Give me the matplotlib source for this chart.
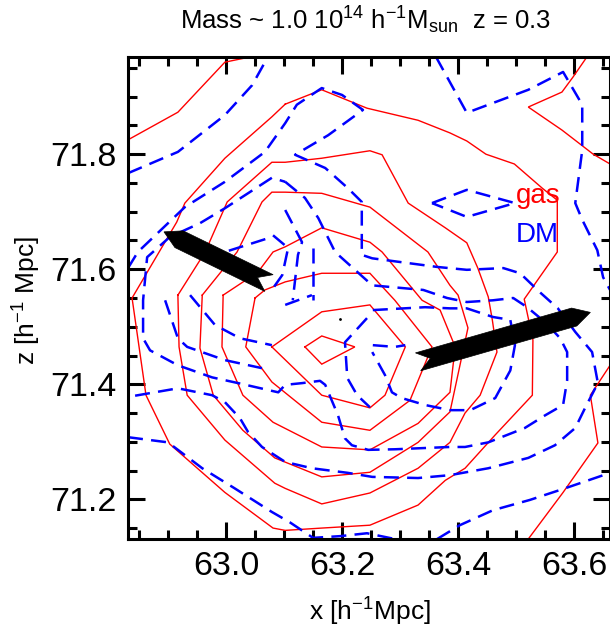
import numpy as np
import matplotlib
matplotlib.use("Agg")
import matplotlib.pyplot as plt
from matplotlib.patches import Polygon
from matplotlib.ticker import MultipleLocator

plt.rcParams['font.family'] = ['Liberation Sans', 'DejaVu Sans']
plt.rcParams['mathtext.fontset'] = 'custom'
plt.rcParams['mathtext.rm'] = 'Liberation Sans'
plt.rcParams['mathtext.it'] = 'Liberation Sans:italic'

# gas contours (red, solid), outer -> inner, x / z in h^-1 Mpc
gas_1a_x = [62.831, 62.917, 62.998, 63.041]
gas_1a_z = [71.825, 71.873, 71.960, 71.969]
gas_1b_x = [63.622, 63.598, 63.579, 63.521, 63.579, 63.633, 63.662]
gas_1b_z = [71.969, 71.934, 71.908, 71.882, 71.842, 71.800, 71.783]
gas_1c_x = [63.662, 63.628, 63.641, 63.581, 63.521]
gas_1c_z = [71.433, 71.381, 71.298, 71.212, 71.131]
gas_2_x = [63.102, 63.165, 63.243, 63.331, 63.386, 63.415, 63.448, 63.497, 63.545, 63.571,
           63.571, 63.514, 63.529, 63.528, 63.464, 63.412, 63.378, 63.331, 63.248, 63.165,
           63.102, 63.081, 62.998, 62.903, 62.862, 62.838, 62.915, 62.929, 62.998, 63.079, 63.102]
gas_2_z = [71.887, 71.912, 71.880, 71.859, 71.837, 71.823, 71.800, 71.783, 71.741, 71.720,
           71.630, 71.548, 71.477, 71.381, 71.312, 71.254, 71.233, 71.190, 71.155, 71.150,
           71.146, 71.150, 71.212, 71.296, 71.381, 71.550, 71.682, 71.715, 71.793, 71.865, 71.887]
gas_3_x = [62.917, 62.919, 62.933, 62.998, 63.084, 63.102, 63.165, 63.248, 63.331, 63.386,
           63.412, 63.438, 63.467, 63.459, 63.452, 63.434, 63.415, 63.378, 63.314, 63.269,
           63.248, 63.165, 63.102, 63.079, 63.002, 62.964, 62.917]
gas_3_z = [71.555, 71.465, 71.381, 71.303, 71.228, 71.219, 71.192, 71.211, 71.254, 71.299,
           71.350, 71.381, 71.456, 71.512, 71.552, 71.602, 71.646, 71.672, 71.715, 71.799,
           71.806, 71.793, 71.786, 71.786, 71.717, 71.630, 71.555]
gas_4_x = [62.959, 62.955, 62.978, 63.029, 63.084, 63.165, 63.248, 63.331, 63.386, 63.417,
           63.400, 63.386, 63.348, 63.248, 63.165, 63.102, 63.079, 63.062, 63.019, 62.959]
gas_4_z = [71.555, 71.463, 71.381, 71.320, 71.272, 71.239, 71.247, 71.299, 71.352, 71.498,
           71.555, 71.572, 71.630, 71.708, 71.732, 71.734, 71.734, 71.717, 71.630, 71.555]
gas_5_x = [62.995, 62.993, 63.029, 63.081, 63.165, 63.248, 63.331, 63.386, 63.395, 63.369,
           63.338, 63.269, 63.248, 63.165, 63.102, 63.081, 63.055, 62.995]
gas_5_z = [71.555, 71.465, 71.381, 71.334, 71.291, 71.286, 71.332, 71.386, 71.465, 71.529,
           71.546, 71.630, 71.647, 71.672, 71.639, 71.630, 71.595, 71.555]
gas_6_x = [63.050, 63.034, 63.079, 63.165, 63.248, 63.317, 63.355, 63.291, 63.248, 63.165,
           63.102, 63.067, 63.050]
gas_6_z = [71.550, 71.465, 71.404, 71.334, 71.320, 71.372, 71.465, 71.546, 71.593, 71.593,
           71.578, 71.564, 71.550]
gas_7_x = [63.079, 63.165, 63.248, 63.309, 63.274, 63.248, 63.165, 63.079]
gas_7_z = [71.465, 71.526, 71.538, 71.465, 71.381, 71.359, 71.381, 71.465]
gas_8_x = [63.136, 63.165, 63.222, 63.165, 63.136]
gas_8_z = [71.465, 71.484, 71.465, 71.435, 71.465]

# dark matter contours (blue, dashed)
dm_1a_x = [62.831, 62.917, 62.998, 63.045, 63.072]
dm_1a_z = [71.767, 71.804, 71.868, 71.920, 71.969]
dm_1b_x = [63.362, 63.415, 63.521, 63.581, 63.614, 63.614, 63.602, 63.614, 63.640, 63.650, 63.662]
dm_1b_z = [71.969, 71.872, 71.912, 71.943, 71.886, 71.807, 71.715, 71.686, 71.633, 71.586, 71.564]
dm_1c_x = [62.831, 62.900, 62.959, 63.015, 63.079, 63.110, 63.150, 63.197, 63.243, 63.291]
dm_1c_z = [71.308, 71.299, 71.254, 71.219, 71.178, 71.160, 71.133, 71.136, 71.141, 71.131]
dm_1e_x = [63.364, 63.403, 63.460, 63.524, 63.584, 63.662]
dm_1e_z = [71.131, 71.155, 71.181, 71.199, 71.219, 71.246]
dm_1f_x = [63.355, 63.415, 63.498, 63.415, 63.355]
dm_1f_z = [71.715, 71.738, 71.715, 71.691, 71.715]
dm_2_x = [62.831, 62.848, 62.929, 62.998, 63.067, 63.102, 63.122, 63.165, 63.200, 63.236,
          63.176, 63.119, 63.171, 63.210, 63.234, 63.234, 63.252, 63.364, 63.415, 63.478,
          63.507, 63.541, 63.572, 63.602, 63.631, 63.641, 63.619, 63.602, 63.567, 63.521,
          63.452, 63.386, 63.331, 63.252, 63.210, 63.148, 63.102, 63.062, 63.038, 63.024,
          62.998, 62.976, 62.917, 62.831]
dm_2_z = [71.602, 71.630, 71.708, 71.752, 71.804, 71.854, 71.886, 71.915, 71.903, 71.877,
          71.833, 71.799, 71.776, 71.741, 71.717, 71.625, 71.619, 71.604, 71.599, 71.602,
          71.593, 71.560, 71.532, 71.491, 71.456, 71.402, 71.359, 71.324, 71.294, 71.272,
          71.254, 71.242, 71.237, 71.239, 71.246, 71.254, 71.265, 71.291, 71.317, 71.341,
          71.369, 71.381, 71.393, 71.378]
dm_3_x = [63.102, 63.136, 63.159, 63.188, 63.252, 63.340, 63.381, 63.415, 63.460, 63.495,
          63.519, 63.550, 63.576, 63.588, 63.588, 63.581, 63.550, 63.515, 63.452, 63.412,
          63.386, 63.291, 63.245, 63.217, 63.205, 63.193, 63.171, 63.162, 63.131, 63.102,
          63.090, 63.021, 62.976, 62.917, 62.869, 62.857, 62.857, 62.864, 62.903, 62.955,
          62.998, 63.079, 63.102]
dm_3_z = [71.752, 71.724, 71.689, 71.630, 71.572, 71.564, 71.550, 71.543, 71.546, 71.550,
          71.534, 71.508, 71.480, 71.456, 71.407, 71.364, 71.346, 71.324, 71.299, 71.291,
          71.291, 71.287, 71.286, 71.294, 71.306, 71.346, 71.399, 71.406, 71.402, 71.399,
          71.386, 71.402, 71.412, 71.433, 71.459, 71.480, 71.546, 71.621, 71.656, 71.680,
          71.706, 71.759, 71.752]
dm_4a_x = [63.253, 63.343, 63.386, 63.415, 63.460, 63.490, 63.498, 63.490, 63.464, 63.421,
           63.386, 63.343, 63.303, 63.286, 63.274, 63.252]
dm_4a_z = [71.529, 71.534, 71.532, 71.532, 71.517, 71.512, 71.468, 71.424, 71.376, 71.355,
           71.355, 71.364, 71.376, 71.386, 71.416, 71.456]
dm_4b_x = [63.102, 63.131, 63.124, 63.115]
dm_4b_z = [71.703, 71.647, 71.625, 71.546]
dm_4c_x = [62.895, 62.917, 62.933, 62.998, 63.062]
dm_4c_z = [71.546, 71.480, 71.465, 71.442, 71.428]
dm_4d_x = [63.243, 63.205, 63.209, 63.226, 63.248]
dm_4d_z = [71.515, 71.473, 71.411, 71.381, 71.360]
dm_5a_x = [63.150, 63.150]
dm_5a_z = [71.637, 71.546]
dm_5b_x = [62.938, 62.981, 63.024, 63.079]
dm_5b_z = [71.555, 71.503, 71.480, 71.468]
dm_5c_x = [62.967, 62.998, 63.079]
dm_5c_z = [71.619, 71.630, 71.656]
dm_5d_x = [63.081, 63.107, 63.097, 63.081]
dm_5d_z = [71.659, 71.637, 71.590, 71.567]
dm_5e_x = [63.102, 63.148]
dm_5e_z = [71.538, 71.555]
dm_6_x = [63.253, 63.291, 63.309]
dm_6_z = [71.468, 71.465, 71.468]

# velocity arrows: tail (x, z) -> head (x, z)
arrow_tail_x = [63.074, 63.331]
arrow_tail_z = [71.576, 71.439]
arrow_head_x = [62.893, 63.628]
arrow_head_z = [71.665, 71.525]

centre_x = [63.197]
centre_z = [71.513]

gas_lines = [(gas_1a_x, gas_1a_z), (gas_1b_x, gas_1b_z), (gas_1c_x, gas_1c_z),
             (gas_2_x, gas_2_z), (gas_3_x, gas_3_z), (gas_4_x, gas_4_z),
             (gas_5_x, gas_5_z), (gas_6_x, gas_6_z), (gas_7_x, gas_7_z), (gas_8_x, gas_8_z)]
dm_lines = [(dm_1a_x, dm_1a_z), (dm_1b_x, dm_1b_z), (dm_1c_x, dm_1c_z),
            (dm_1e_x, dm_1e_z), (dm_1f_x, dm_1f_z), (dm_2_x, dm_2_z), (dm_3_x, dm_3_z),
            (dm_4a_x, dm_4a_z), (dm_4b_x, dm_4b_z), (dm_4c_x, dm_4c_z), (dm_4d_x, dm_4d_z),
            (dm_5a_x, dm_5a_z), (dm_5b_x, dm_5b_z), (dm_5c_x, dm_5c_z), (dm_5d_x, dm_5d_z),
            (dm_5e_x, dm_5e_z), (dm_6_x, dm_6_z)]

fig = plt.figure(figsize=(6.10, 6.28), dpi=100)
ax = fig.add_axes([128/610, 89/628, 481.5/610, 482/628])

for xs, zs in gas_lines:
    ax.plot(xs, zs, color='red', lw=1.0, solid_joinstyle='miter')
for xs, zs in dm_lines:
    ax.plot(xs, zs, color='blue', lw=1.8, dashes=(6, 3.3))


def arrow_poly(x0, z0, x1, z1, half_w=0.0162, head=0.029, notch=0.022):
    # arrow with pointed head and swallow tail (data units, aspect ~1)
    d = np.array([x1 - x0, z1 - z0])
    L = np.hypot(*d)
    u = d / L
    p = np.array([-u[1], u[0]])
    a = np.array([x0, z0])
    pts = [a + L * u,
           a + (L - head) * u + half_w * p,
           a + half_w * p,
           a + notch * u,
           a - half_w * p,
           a + (L - head) * u - half_w * p]
    return np.array(pts)


for i in range(len(arrow_tail_x)):
    pts = arrow_poly(arrow_tail_x[i], arrow_tail_z[i], arrow_head_x[i], arrow_head_z[i])
    ax.add_patch(Polygon(pts, closed=True, facecolor='black', edgecolor='black', lw=0.5, zorder=5))

ax.plot(centre_x, centre_z, 'k.', ms=2)

ax.text(63.500, 71.715, 'gas', color='red', fontsize=20)
ax.text(63.500, 71.647, 'DM', color='blue', fontsize=20)

ax.set_xlim(62.831, 63.661)
ax.set_ylim(71.131, 71.969)
ax.xaxis.set_major_locator(MultipleLocator(0.2))
ax.xaxis.set_minor_locator(MultipleLocator(0.05))
ax.yaxis.set_major_locator(MultipleLocator(0.2))
ax.yaxis.set_minor_locator(MultipleLocator(0.05))
ax.tick_params(which='both', direction='in', top=True, right=True, width=2.2, labelsize=24.5, pad=8.5)
ax.tick_params(which='major', length=12)
ax.tick_params(which='minor', length=6.5)
for s in ax.spines.values():
    s.set_linewidth(2.2)

fig.text(366/610, 1 - 20/628, 'Mass ~ 1.0 10$^{14}$ h$^{-1}$M$_{\\rm sun}$  z = 0.3',
         ha='center', va='center', fontsize=18.5)
fig.text(370/610, 1 - 612/628, 'x [h$^{-1}$Mpc]', ha='center', va='center', fontsize=19)
fig.text(27/610, 1 - 300/628, 'z [h$^{-1}$ Mpc]', ha='center', va='center', rotation=90, fontsize=19)

fig.savefig('out.png', dpi=100)
